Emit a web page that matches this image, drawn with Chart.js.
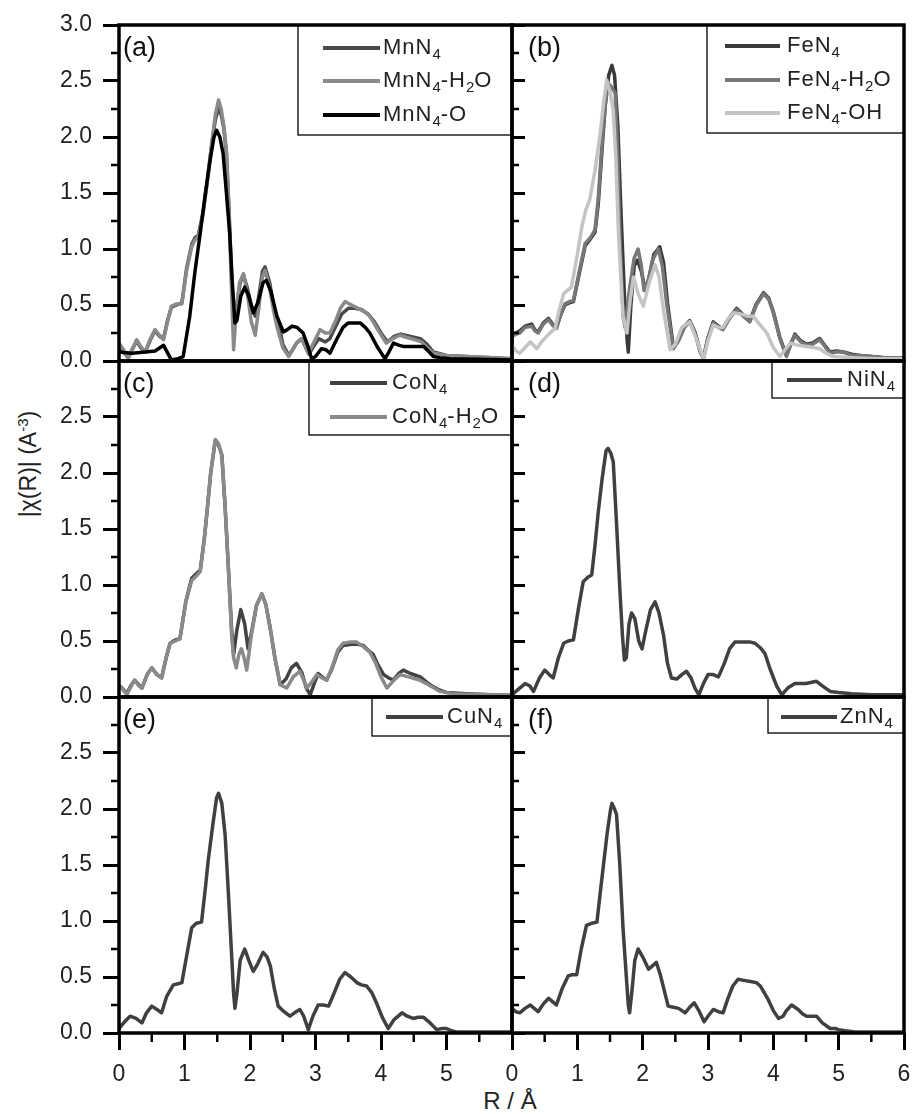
<!DOCTYPE html>
<html>
<head>
<meta charset="utf-8">
<script src="https://cdn.jsdelivr.net/npm/chart.js@4.4.1/dist/chart.umd.min.js"></script>
<style>
  html, body { margin: 0; padding: 0; background: #fff; overflow: hidden; }
  #fig { position: relative; width: 913px; height: 1114px; overflow: hidden; font-family: "Liberation Sans", Arial, sans-serif; color: #222; }
  #fig canvas { position: absolute; }
  .ytitle { position: absolute; left: 28px; top: 464px; transform: translate(-50%, -50%) rotate(-90deg); font-size: 23px; white-space: nowrap; }
  .ytitle sup { font-size: 15px; vertical-align: 8px; }
  .xtitle { position: absolute; left: 510px; top: 1101px; transform: translate(-50%, -50%); font-size: 24px; white-space: nowrap; }
</style>
</head>
<body>
<div id="fig">
  <div class="ytitle">|χ(R)| (A<sup>-3</sup>)</div>
  <div class="xtitle">R / Å</div>
</div>
<script>
// 坐标轴刻度
const xTicks = [0, 1, 2, 3, 4, 5, 6];
const yTicks = [0, 0.5, 1, 1.5, 2, 2.5, 3];

// (a) Mn
const mnN4 = [[0,0.14],[0.07,0.08],[0.14,0.03],[0.2,0.1],[0.27,0.18],[0.33,0.12],[0.4,0.08],[0.48,0.19],[0.55,0.27],[0.62,0.22],[0.68,0.2],[0.74,0.36],[0.8,0.48],[0.88,0.5],[0.96,0.52],[1.03,0.82],[1.11,1.04],[1.16,1.1],[1.21,1.12],[1.28,1.32],[1.34,1.58],[1.42,1.96],[1.47,2.15],[1.52,2.26],[1.56,2.2],[1.6,2.08],[1.64,1.85],[1.68,1.35],[1.72,0.75],[1.76,0.32],[1.8,0.5],[1.85,0.7],[1.9,0.77],[1.96,0.65],[2.02,0.5],[2.08,0.4],[2.14,0.6],[2.19,0.8],[2.23,0.84],[2.3,0.7],[2.36,0.5],[2.45,0.3],[2.5,0.15],[2.59,0.05],[2.65,0.1],[2.71,0.16],[2.79,0.2],[2.85,0.12],[2.9,0.06],[2.97,0.13],[3.05,0.2],[3.15,0.17],[3.22,0.2],[3.3,0.3],[3.4,0.42],[3.5,0.47],[3.6,0.47],[3.7,0.46],[3.8,0.42],[3.9,0.35],[4.0,0.25],[4.1,0.17],[4.2,0.22],[4.3,0.24],[4.45,0.22],[4.6,0.2],[4.7,0.15],[4.8,0.08],[5.0,0.05],[5.3,0.04],[5.7,0.03],[6,0.02]];
const mnN4H2O = [[0,0.16],[0.07,0.1],[0.14,0.02],[0.2,0.1],[0.27,0.19],[0.33,0.13],[0.4,0.08],[0.48,0.2],[0.55,0.28],[0.62,0.23],[0.68,0.19],[0.74,0.35],[0.8,0.49],[0.88,0.51],[0.96,0.51],[1.03,0.8],[1.11,1.02],[1.16,1.08],[1.21,1.11],[1.28,1.3],[1.34,1.56],[1.42,1.95],[1.47,2.2],[1.52,2.33],[1.56,2.25],[1.6,2.1],[1.64,1.88],[1.68,1.3],[1.72,0.6],[1.75,0.1],[1.79,0.45],[1.84,0.7],[1.9,0.78],[1.96,0.6],[2.02,0.35],[2.08,0.23],[2.14,0.5],[2.19,0.75],[2.23,0.81],[2.3,0.65],[2.36,0.45],[2.41,0.31],[2.5,0.12],[2.59,0.04],[2.65,0.1],[2.71,0.16],[2.79,0.2],[2.85,0.12],[2.89,0.07],[2.97,0.16],[3.07,0.28],[3.15,0.25],[3.22,0.25],[3.3,0.35],[3.38,0.47],[3.45,0.53],[3.55,0.5],[3.65,0.47],[3.75,0.44],[3.83,0.4],[3.95,0.28],[4.08,0.16],[4.18,0.2],[4.29,0.23],[4.4,0.21],[4.52,0.19],[4.62,0.17],[4.7,0.12],[4.8,0.07],[5.0,0.05],[5.3,0.04],[5.7,0.03],[6,0.02]];
const mnN4O = [[0,0.08],[0.2,0.07],[0.4,0.08],[0.55,0.09],[0.68,0.14],[0.8,0.01],[0.9,0.02],[0.98,0.04],[1.08,0.4],[1.16,0.8],[1.24,1.14],[1.32,1.5],[1.39,1.79],[1.45,2.0],[1.49,2.06],[1.54,2.0],[1.59,1.85],[1.64,1.5],[1.69,1.14],[1.73,0.7],[1.77,0.34],[1.8,0.36],[1.86,0.58],[1.92,0.66],[1.98,0.58],[2.05,0.43],[2.12,0.52],[2.2,0.7],[2.25,0.72],[2.32,0.62],[2.41,0.4],[2.51,0.26],[2.57,0.28],[2.64,0.31],[2.72,0.3],[2.81,0.25],[2.88,0.14],[2.94,0.02],[3.0,0.04],[3.09,0.11],[3.16,0.1],[3.22,0.07],[3.32,0.19],[3.42,0.3],[3.5,0.34],[3.6,0.34],[3.68,0.34],[3.76,0.3],[3.83,0.25],[3.95,0.12],[4.06,0.02],[4.12,0.08],[4.19,0.16],[4.28,0.14],[4.34,0.13],[4.5,0.13],[4.65,0.13],[4.72,0.09],[4.8,0.04],[4.9,0.03],[5.05,0.02],[5.5,0.015],[6,0.01]];

// (b) Fe
const feN4 = [[0,0.24],[0.06,0.25],[0.12,0.27],[0.2,0.31],[0.3,0.33],[0.35,0.28],[0.4,0.26],[0.48,0.34],[0.56,0.38],[0.62,0.33],[0.68,0.3],[0.75,0.42],[0.81,0.5],[0.88,0.52],[0.94,0.53],[1.03,0.78],[1.12,1.03],[1.2,1.09],[1.27,1.15],[1.32,1.4],[1.38,1.9],[1.43,2.3],[1.48,2.55],[1.53,2.64],[1.57,2.55],[1.62,2.1],[1.67,1.3],[1.72,0.6],[1.76,0.2],[1.78,0.08],[1.82,0.5],[1.87,0.85],[1.92,0.9],[1.98,0.8],[2.04,0.63],[2.1,0.75],[2.17,0.95],[2.26,1.02],[2.32,0.88],[2.38,0.52],[2.47,0.12],[2.55,0.19],[2.64,0.31],[2.72,0.36],[2.8,0.26],[2.88,0.09],[2.93,0.03],[3.0,0.21],[3.08,0.35],[3.16,0.31],[3.23,0.29],[3.33,0.39],[3.44,0.47],[3.54,0.41],[3.64,0.36],[3.74,0.51],[3.85,0.61],[3.93,0.56],[4.0,0.44],[4.1,0.21],[4.2,0.05],[4.27,0.16],[4.33,0.24],[4.42,0.18],[4.51,0.15],[4.6,0.16],[4.71,0.2],[4.8,0.13],[4.87,0.08],[4.97,0.09],[5.07,0.08],[5.2,0.06],[5.33,0.05],[5.5,0.04],[5.7,0.03],[6,0.03]];
const feN4H2O = [[0,0.22],[0.06,0.24],[0.12,0.25],[0.2,0.3],[0.3,0.31],[0.35,0.27],[0.4,0.25],[0.48,0.33],[0.56,0.37],[0.62,0.32],[0.68,0.29],[0.75,0.42],[0.81,0.51],[0.88,0.53],[0.94,0.54],[1.03,0.8],[1.12,1.05],[1.2,1.1],[1.27,1.17],[1.32,1.45],[1.37,1.88],[1.42,2.25],[1.47,2.48],[1.52,2.45],[1.58,2.39],[1.62,1.8],[1.65,1.14],[1.7,0.4],[1.73,0.3],[1.8,0.65],[1.87,0.92],[1.93,1.0],[1.98,0.85],[2.02,0.63],[2.08,0.7],[2.15,0.9],[2.24,1.0],[2.3,0.85],[2.37,0.5],[2.47,0.11],[2.55,0.18],[2.64,0.3],[2.72,0.35],[2.8,0.25],[2.88,0.08],[2.93,0.02],[3.0,0.2],[3.08,0.34],[3.16,0.3],[3.23,0.28],[3.33,0.38],[3.44,0.46],[3.54,0.4],[3.64,0.35],[3.74,0.5],[3.85,0.6],[3.93,0.55],[4.0,0.43],[4.1,0.2],[4.2,0.04],[4.27,0.15],[4.33,0.23],[4.42,0.17],[4.51,0.14],[4.6,0.15],[4.71,0.19],[4.8,0.12],[4.87,0.07],[4.97,0.08],[5.07,0.08],[5.2,0.05],[5.33,0.05],[5.5,0.04],[5.7,0.03],[6,0.03]];
const feN4OH = [[0,0.14],[0.06,0.09],[0.12,0.07],[0.2,0.12],[0.28,0.17],[0.33,0.14],[0.38,0.11],[0.45,0.17],[0.53,0.22],[0.6,0.26],[0.66,0.29],[0.72,0.45],[0.79,0.6],[0.85,0.63],[0.91,0.66],[1.0,0.95],[1.07,1.2],[1.13,1.35],[1.19,1.44],[1.27,1.7],[1.35,2.03],[1.4,2.3],[1.45,2.51],[1.5,2.4],[1.55,2.24],[1.59,1.8],[1.63,1.14],[1.67,0.7],[1.7,0.4],[1.76,0.25],[1.81,0.55],[1.86,0.75],[1.93,0.6],[2.01,0.49],[2.1,0.7],[2.19,0.86],[2.25,0.75],[2.32,0.45],[2.42,0.1],[2.5,0.15],[2.6,0.3],[2.72,0.35],[2.82,0.2],[2.93,0.02],[3.0,0.18],[3.08,0.32],[3.16,0.3],[3.23,0.3],[3.31,0.38],[3.39,0.43],[3.5,0.42],[3.6,0.4],[3.69,0.4],[3.8,0.32],[3.9,0.25],[4.0,0.12],[4.1,0.04],[4.18,0.1],[4.26,0.16],[4.38,0.14],[4.51,0.13],[4.62,0.12],[4.71,0.11],[4.8,0.07],[4.92,0.04],[5.2,0.03],[5.6,0.02],[6,0.02]];

// (c) Co
const coN4 = [[0,0.1],[0.03,0.09],[0.12,0.03],[0.18,0.1],[0.24,0.15],[0.3,0.11],[0.35,0.08],[0.43,0.2],[0.5,0.26],[0.58,0.2],[0.65,0.17],[0.72,0.35],[0.78,0.48],[0.86,0.51],[0.93,0.52],[1.02,0.85],[1.11,1.06],[1.18,1.1],[1.24,1.13],[1.3,1.4],[1.34,1.63],[1.4,2.0],[1.47,2.29],[1.52,2.25],[1.57,2.16],[1.62,1.7],[1.67,1.15],[1.72,0.6],[1.75,0.38],[1.8,0.6],[1.86,0.78],[1.92,0.65],[1.97,0.43],[2.03,0.6],[2.1,0.82],[2.18,0.92],[2.24,0.83],[2.31,0.61],[2.38,0.35],[2.46,0.11],[2.55,0.16],[2.63,0.26],[2.71,0.3],[2.79,0.22],[2.86,0.08],[2.92,0.02],[2.98,0.12],[3.04,0.21],[3.1,0.18],[3.17,0.15],[3.25,0.25],[3.34,0.4],[3.42,0.46],[3.55,0.47],[3.65,0.47],[3.73,0.46],[3.8,0.42],[3.88,0.38],[3.96,0.28],[4.04,0.2],[4.12,0.17],[4.19,0.15],[4.27,0.21],[4.34,0.24],[4.45,0.21],[4.6,0.18],[4.7,0.13],[4.8,0.09],[4.9,0.06],[5.0,0.04],[5.3,0.03],[5.7,0.02],[6,0.02]];
const coN4H2O = [[0,0.1],[0.03,0.09],[0.12,0.02],[0.18,0.09],[0.24,0.15],[0.3,0.1],[0.35,0.08],[0.43,0.2],[0.5,0.26],[0.58,0.2],[0.65,0.17],[0.72,0.35],[0.78,0.48],[0.86,0.5],[0.93,0.52],[1.02,0.85],[1.11,1.04],[1.18,1.08],[1.24,1.12],[1.3,1.4],[1.34,1.63],[1.4,2.0],[1.47,2.3],[1.52,2.26],[1.57,2.16],[1.62,1.7],[1.67,1.15],[1.72,0.55],[1.75,0.35],[1.79,0.26],[1.83,0.38],[1.87,0.43],[1.91,0.35],[1.95,0.24],[2.02,0.55],[2.1,0.82],[2.18,0.92],[2.24,0.83],[2.31,0.61],[2.38,0.35],[2.46,0.11],[2.56,0.08],[2.66,0.18],[2.76,0.23],[2.82,0.15],[2.87,0.08],[2.95,0.14],[3.02,0.2],[3.1,0.17],[3.17,0.15],[3.25,0.26],[3.34,0.42],[3.42,0.48],[3.52,0.49],[3.63,0.49],[3.73,0.45],[3.83,0.4],[3.92,0.3],[4.0,0.18],[4.09,0.08],[4.18,0.14],[4.29,0.2],[4.42,0.18],[4.6,0.15],[4.75,0.1],[4.9,0.05],[5.1,0.03],[5.5,0.02],[6,0.02]];

// (d) Ni
const niN4 = [[0,0.02],[0.1,0.07],[0.2,0.12],[0.27,0.1],[0.33,0.05],[0.42,0.17],[0.5,0.24],[0.57,0.2],[0.63,0.17],[0.71,0.35],[0.79,0.48],[0.86,0.5],[0.94,0.51],[1.02,0.8],[1.09,1.03],[1.16,1.07],[1.22,1.09],[1.27,1.35],[1.32,1.65],[1.38,1.95],[1.44,2.2],[1.47,2.22],[1.51,2.18],[1.55,2.1],[1.6,1.55],[1.65,0.97],[1.69,0.55],[1.72,0.33],[1.75,0.35],[1.79,0.65],[1.83,0.75],[1.88,0.7],[1.94,0.5],[1.99,0.43],[2.05,0.6],[2.12,0.78],[2.19,0.85],[2.25,0.75],[2.32,0.55],[2.38,0.3],[2.44,0.17],[2.52,0.16],[2.6,0.2],[2.67,0.23],[2.74,0.17],[2.8,0.08],[2.86,0.02],[2.93,0.12],[3.0,0.2],[3.08,0.2],[3.16,0.18],[3.25,0.3],[3.33,0.43],[3.41,0.49],[3.55,0.49],[3.65,0.49],[3.72,0.48],[3.8,0.44],[3.87,0.39],[3.95,0.25],[4.05,0.1],[4.13,0.02],[4.22,0.08],[4.33,0.12],[4.5,0.12],[4.66,0.14],[4.75,0.1],[4.87,0.05],[5.0,0.04],[5.2,0.03],[5.5,0.02],[6,0.02]];

// (e) Cu
const cuN4 = [[0,0.04],[0.1,0.11],[0.17,0.15],[0.26,0.13],[0.35,0.09],[0.42,0.18],[0.5,0.24],[0.58,0.21],[0.65,0.18],[0.73,0.33],[0.83,0.43],[0.9,0.44],[0.96,0.45],[1.03,0.68],[1.11,0.94],[1.18,0.98],[1.26,0.99],[1.32,1.3],[1.36,1.53],[1.43,1.85],[1.49,2.1],[1.52,2.14],[1.57,2.05],[1.62,1.77],[1.67,1.25],[1.72,0.69],[1.75,0.35],[1.77,0.22],[1.8,0.35],[1.85,0.65],[1.92,0.75],[1.98,0.65],[2.05,0.55],[2.12,0.62],[2.2,0.72],[2.26,0.68],[2.31,0.6],[2.37,0.4],[2.43,0.24],[2.52,0.19],[2.61,0.15],[2.68,0.18],[2.76,0.21],[2.82,0.15],[2.89,0.03],[2.96,0.15],[3.04,0.25],[3.12,0.25],[3.2,0.24],[3.28,0.35],[3.37,0.48],[3.45,0.54],[3.54,0.5],[3.63,0.45],[3.7,0.43],[3.78,0.42],[3.86,0.36],[3.93,0.27],[4.02,0.14],[4.11,0.04],[4.2,0.12],[4.32,0.18],[4.4,0.15],[4.49,0.13],[4.57,0.14],[4.65,0.14],[4.75,0.09],[4.85,0.03],[4.93,0.04],[5.0,0.04],[5.08,0.02],[5.15,0.01],[5.5,0.01],[6,0.01]];

// (f) Zn
const znN4 = [[0,0.22],[0.06,0.19],[0.12,0.18],[0.2,0.22],[0.28,0.25],[0.34,0.22],[0.4,0.19],[0.48,0.26],[0.56,0.31],[0.62,0.28],[0.68,0.25],[0.77,0.4],[0.86,0.51],[0.92,0.52],[0.99,0.52],[1.06,0.75],[1.14,0.96],[1.22,0.98],[1.3,0.99],[1.35,1.25],[1.4,1.5],[1.46,1.8],[1.51,2.0],[1.53,2.05],[1.57,2.0],[1.6,1.95],[1.65,1.5],[1.7,0.93],[1.75,0.5],[1.78,0.25],[1.8,0.18],[1.84,0.4],[1.88,0.65],[1.93,0.75],[2.0,0.68],[2.09,0.57],[2.15,0.6],[2.21,0.63],[2.27,0.52],[2.33,0.38],[2.39,0.24],[2.47,0.23],[2.55,0.22],[2.65,0.18],[2.72,0.23],[2.79,0.27],[2.86,0.2],[2.94,0.1],[3.0,0.15],[3.08,0.21],[3.16,0.19],[3.23,0.18],[3.3,0.3],[3.38,0.42],[3.46,0.48],[3.55,0.47],[3.65,0.46],[3.74,0.45],[3.8,0.42],[3.86,0.36],[3.92,0.3],[4.0,0.2],[4.08,0.13],[4.15,0.15],[4.2,0.2],[4.28,0.25],[4.38,0.21],[4.45,0.17],[4.51,0.15],[4.6,0.15],[4.66,0.15],[4.75,0.09],[4.87,0.04],[4.95,0.04],[5.0,0.03],[5.1,0.02],[5.25,0.01],[6,0.01]];

const FONT = '"Liberation Sans", Arial, sans-serif';

// 面板布局 (像素)
const colLeft = [119, 512], colRight = [512, 904];
const rowTop = [25, 361, 697], rowBottom = [361, 697, 1033];

const panels = [
    { tag: '(a)', col: 0, row: 0,
      series: [['MnN4', mnN4, '#4a4a4a'], ['MnN4-H2O', mnN4H2O, '#8a8a8a'], ['MnN4-O', mnN4O, '#000000']],
      legend: { w: 214, h: 110, line: [25, 82], text: 85, rows: [23, 56, 90] } },
    { tag: '(b)', col: 1, row: 0,
      series: [['FeN4', feN4, '#3a3a3a'], ['FeN4-H2O', feN4H2O, '#777777'], ['FeN4-OH', feN4OH, '#c4c4c4']],
      drawOrder: [2, 1, 0],
      legend: { w: 197, h: 108, line: [18, 73], text: 80, rows: [21, 55, 88] } },
    { tag: '(c)', col: 0, row: 1,
      series: [['CoN4', coN4, '#424242'], ['CoN4-H2O', coN4H2O, '#8a8a8a']],
      legend: { w: 203, h: 74, line: [21, 78], text: 83, rows: [22, 56] } },
    { tag: '(d)', col: 1, row: 1,
      series: [['NiN4', niN4, '#404040']],
      legend: { w: 132, h: 37, line: [15, 70], text: 75, rows: [19] } },
    { tag: '(e)', col: 0, row: 2,
      series: [['CuN4', cuN4, '#404040']],
      legend: { w: 140, h: 39, line: [14, 71], text: 75, rows: [20] } },
    { tag: '(f)', col: 1, row: 2,
      series: [['ZnN4', znN4, '#404040']],
      legend: { w: 136, h: 36, line: [13, 69], text: 72, rows: [20] } }
];

// 带下标的文字 (数字作下标)
function drawSubText(ctx, str, x, y, size) {
    let cx = x;
    for (const ch of str) {
        const sub = /[0-9]/.test(ch);
        ctx.font = (sub ? Math.round(size * 0.66) : size) + 'px ' + FONT;
        ctx.fillText(ch, cx, sub ? y + size * 0.3 : y);
        cx += ctx.measureText(ch).width + (sub ? 0 : 1);
    }
}

// 边框, 次刻度, 图例, 面板标记
const panelDeco = {
    id: 'panelDeco',
    afterDatasetsDraw(chart, args, opts) {
        const { ctx, chartArea: a, scales: { x, y } } = chart;
        ctx.save();
        ctx.strokeStyle = '#000';
        ctx.lineWidth = 3.5;
        ctx.strokeRect(a.left, a.top, a.right - a.left, a.bottom - a.top);

        // 次刻度
        ctx.lineWidth = 2.5;
        for (let v = 0.25; v < 3; v += 0.5) {
            const py = y.getPixelForValue(v);
            ctx.beginPath();
            ctx.moveTo(a.left, py);
            ctx.lineTo(a.left + opts.minorY, py);
            ctx.stroke();
        }
        if (opts.showX) {
            for (let v = 0.5; v < 6; v += 1) {
                const px = x.getPixelForValue(v);
                ctx.beginPath();
                ctx.moveTo(px, a.bottom);
                ctx.lineTo(px, a.bottom + 9);
                ctx.stroke();
            }
        }

        // 图例
        const lg = opts.legend;
        const bx = a.right - lg.w, by = a.top;
        ctx.lineWidth = 1.3;
        ctx.strokeRect(bx, by, lg.w, lg.h);
        ctx.textBaseline = 'middle';
        ctx.textAlign = 'left';
        chart.data.datasets.forEach((ds, i) => {
            const ry = by + lg.rows[i];
            ctx.strokeStyle = ds.borderColor;
            ctx.lineWidth = 4;
            ctx.beginPath();
            ctx.moveTo(bx + lg.line[0], ry);
            ctx.lineTo(bx + lg.line[1], ry);
            ctx.stroke();
            ctx.fillStyle = '#222';
            drawSubText(ctx, ds.label, bx + lg.text, ry, 22);
        });

        // (a) (b) ...
        ctx.fillStyle = '#111';
        ctx.font = '27px ' + FONT;
        ctx.fillText(opts.tag, a.left + opts.tagDx, a.top + 24);
        ctx.restore();
    }
};

const fig = document.getElementById('fig');

panels.forEach(p => {
    const padT = 30;
    const bottomRow = p.row === 2;
    const cLeft = p.col === 0 ? 0 : 480;
    const cTop = rowTop[p.row] - padT;
    const cWidth = p.col === 0 ? colRight[0] + 30 : 940 - cLeft;
    const cHeight = bottomRow ? 1114 - cTop : (rowBottom[p.row] - rowTop[p.row]) + 2 * padT;
    const padL = p.col === 0 ? 0 : colLeft[1] - cLeft;
    const padR = cLeft + cWidth - colRight[p.col];

    const canvas = document.createElement('canvas');
    canvas.width = cWidth;
    canvas.height = cHeight;
    canvas.style.left = cLeft + 'px';
    canvas.style.top = cTop + 'px';
    fig.appendChild(canvas);

    const n = p.series.length;
    const datasets = p.series.map(([label, pts, color], i) => ({
        label: label,
        data: pts.map(([r, v]) => ({ x: r, y: v })),
        borderColor: color,
        borderWidth: 3.5,
        borderJoinStyle: 'round',
        pointRadius: 0,
        tension: 0,
        fill: false,
        order: p.drawOrder ? p.drawOrder[i] : n - i
    }));

    new Chart(canvas, {
        type: 'line',
        data: { datasets: datasets },
        options: {
            responsive: false,
            animation: false,
            events: [],
            layout: { padding: { left: padL, right: padR, top: padT, bottom: bottomRow ? 0 : padT } },
            plugins: {
                legend: { display: false },
                tooltip: { enabled: false },
                panelDeco: {
                    tag: p.tag,
                    tagDx: p.col === 0 ? 4 : 16,
                    minorY: p.col === 0 ? -8 : 7,
                    showX: bottomRow,
                    legend: p.legend
                }
            },
            scales: {
                x: {
                    type: 'linear',
                    display: bottomRow,
                    min: xTicks[0],
                    max: xTicks[xTicks.length - 1],
                    afterBuildTicks: s => { s.ticks = xTicks.map(v => ({ value: v })); },
                    border: { display: false },
                    grid: { drawOnChartArea: false, tickLength: 17, tickWidth: 3, tickColor: '#000' },
                    ticks: {
                        autoSkip: false,
                        maxRotation: 0,
                        padding: 11,
                        color: '#222',
                        font: { family: FONT, size: 23 },
                        callback: v => (p.col === 0 && v === 6) ? '' : String(v)
                    },
                    afterFit: s => { if (bottomRow) s.height = 1114 - rowBottom[2]; }
                },
                y: {
                    type: 'linear',
                    min: yTicks[0],
                    max: yTicks[yTicks.length - 1],
                    afterBuildTicks: s => { s.ticks = yTicks.map(v => ({ value: v })); },
                    border: { display: false },
                    grid: { drawOnChartArea: false, tickLength: p.col === 0 ? 16 : -13, tickWidth: 3, tickColor: '#000' },
                    ticks: {
                        display: p.col === 0,
                        autoSkip: false,
                        padding: 11,
                        color: '#222',
                        font: { family: FONT, size: 23 },
                        callback: v => (p.row > 0 && v === 3) ? '' : v.toFixed(1)
                    },
                    afterFit: s => { s.width = p.col === 0 ? colLeft[0] : 0; }
                }
            }
        },
        plugins: [panelDeco]
    });
});
</script>
</body>
</html>
